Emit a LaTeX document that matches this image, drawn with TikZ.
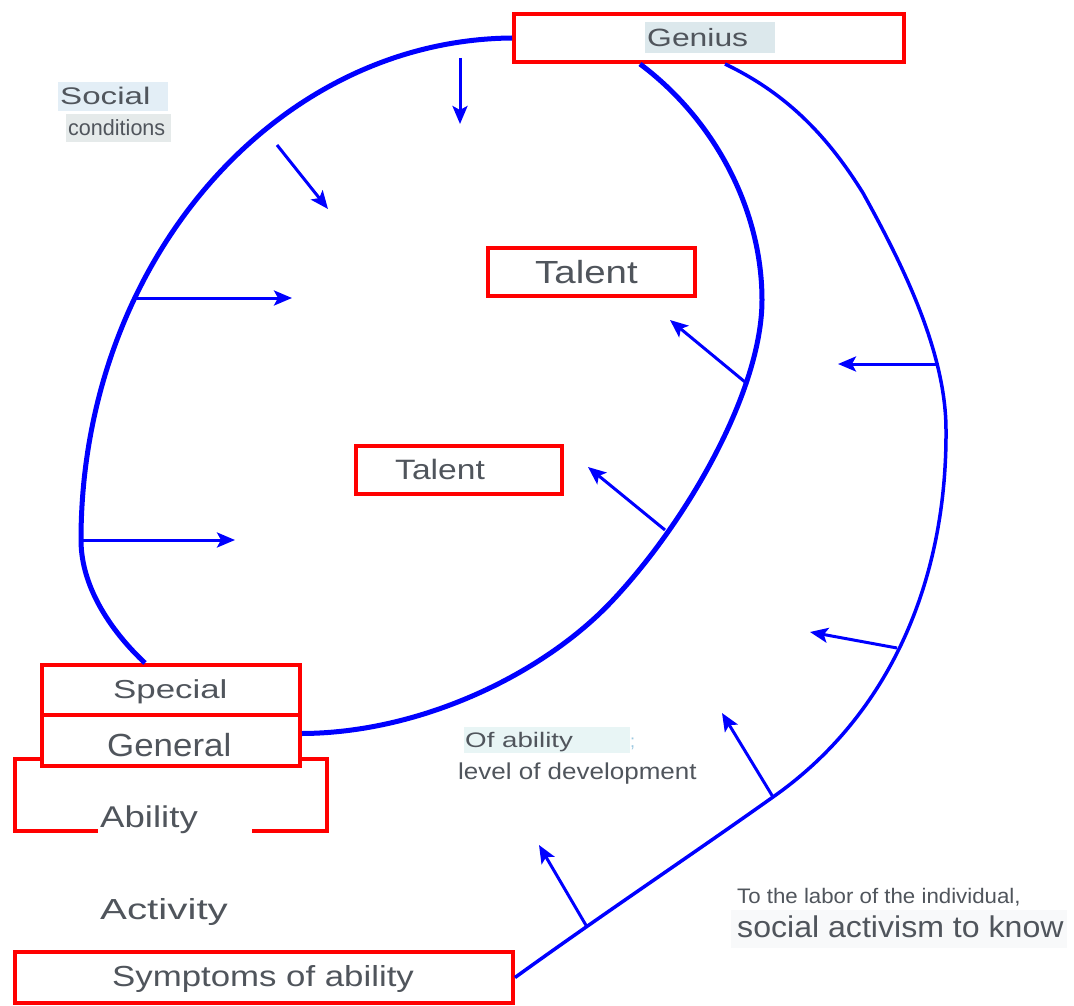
\documentclass[tikz,border=0pt]{standalone}
\usepackage{fontspec}
\setmainfont{Liberation Sans}
\usepackage{graphicx}
\usetikzlibrary{arrows.meta}
\definecolor{tgray}{HTML}{50555C}
\definecolor{geniusbg}{HTML}{DCE8EC}
\definecolor{socialbg}{HTML}{E3EEF6}
\definecolor{condbg}{HTML}{E5EAEA}
\definecolor{ofbg}{HTML}{E8F5F5}
\definecolor{actbg}{HTML}{F8F9FA}
\definecolor{semic}{HTML}{9CC8E0}
\newcommand{\wt}[3]{\scalebox{#2}[1]{\fontsize{#1}{#1}\selectfont #3}}
\begin{document}
\begin{tikzpicture}[x=1pt,y=-1pt,
  box/.style={draw=red, line width=4pt, fill=white, inner sep=0pt, text=tgray},
  bg/.style={inner sep=0pt, draw=none},
  lbl/.style={inner sep=0pt, text=tgray, anchor=base west},
  thickarc/.style={draw=blue, line width=5pt, line join=round},
  outerarc/.style={draw=blue, line width=3.5pt, line join=round},
  arr/.style={draw=blue, line width=3pt, -{Stealth[length=18pt,width=15pt,inset=4pt]}}]
\useasboundingbox (0,0) rectangle (1074,1006);
\fill[white] (0,0) rectangle (1074,1006);

% boxes
\node[box, minimum width=390pt, minimum height=48pt] (genius) at (709,38) {};
\node[bg, fill=geniusbg, minimum width=130pt, minimum height=31pt] (geniusbg) at (710,37.5) {};
\node[lbl] (geniustxt) at (647,46.5) {\wt{25}{1.275}{Genius}};

\node[box, minimum width=207pt, minimum height=48pt] (talent1) at (591.5,272) {};
\node[lbl] (talent1txt) at (535,283) {\wt{32}{1.2}{Talent}};

\node[box, minimum width=206pt, minimum height=48pt] (talent2) at (459,470) {};
\node[lbl] (talent2txt) at (395,479) {\wt{28}{1.2}{Talent}};

\node[box, minimum width=312pt, minimum height=72pt] (ability) at (171,795) {};
\node[bg, fill=white, minimum width=154pt, minimum height=34pt] (abilitybg) at (175,818) {};
\node[lbl] (abilitytxt) at (100,827) {\wt{30}{1.22}{Ability}};

\node[box, minimum width=258pt, minimum height=50pt] (special) at (171,690) {};
\node[lbl] (specialtxt) at (113,698) {\wt{26}{1.34}{Special}};
\node[box, minimum width=258pt, minimum height=51pt] (general) at (171,740.5) {};
\node[lbl] (generaltxt) at (107,756) {\wt{32}{1.09}{General}};

\node[lbl] (activity) at (100,919) {\wt{29}{1.39}{Activity}};

\node[box, minimum width=498pt, minimum height=51pt] (symptoms) at (264,977.5) {};
\node[lbl] (symptomstxt) at (112,986) {\wt{29}{1.2}{Symptoms of ability}};

% free labels
\node[bg, fill=socialbg, minimum width=110pt, minimum height=29pt] (socialbg) at (113,96.5) {};
\node[lbl] (social) at (60,105) {\wt{24}{1.38}{Social}};
\node[bg, fill=condbg, minimum width=105pt, minimum height=28pt] (condbg) at (118.5,128) {};
\node[lbl] (conditions) at (68,136) {\wt{22}{0.98}{conditions}};

\node[bg, fill=ofbg, minimum width=166pt, minimum height=26pt] (ofbg) at (547,740) {};
\node[lbl] (ofability) at (465,747) {\wt{21}{1.32}{Of ability}};
\node[lbl, text=semic] (semi) at (630,747) {\wt{18}{1}{;}};
\node[lbl] (level) at (458,779) {\wt{23}{1.13}{level of development}};

\node[lbl] (labor) at (737,903) {\wt{21}{1.06}{To the labor of the individual,}};
\node[bg, fill=actbg, minimum width=336pt, minimum height=38pt] (actbgn) at (899,929) {};
\node[lbl] (activism) at (737,937) {\wt{30}{1.07}{social activism to know}};

% main curves
\draw[thickarc] (genius.west) .. controls (274,40) and (81,264) .. (81,540)
  .. controls (81,590) and (115,635) .. ([xshift=-26pt]special.north);
\draw[thickarc] ([xshift=-69pt]genius.south) .. controls (715,120) and (762,210) .. (762,300)
  .. controls (762,390) and (688,520) .. (613,600)
  .. controls (545,673) and (422,733) .. ([yshift=7pt]general.east);
\draw[outerarc] ([xshift=16pt]genius.south) .. controls (790,95) and (830,140) .. (863,193)
  .. controls (900,260) and (946,350) .. (946,430)
  .. controls (947,580) and (890,715) .. (773,797)
  .. controls (690,856) and (600,916) .. (symptoms.east);

% arrows
\coordinate (a1s) at (460,58);  \coordinate (a1e) at (460,124);
\coordinate (a2s) at (277,145); \coordinate (a2e) at (328,209);
\coordinate (a3s) at (135,298); \coordinate (a3e) at (292,298);
\coordinate (a4s) at (80,540);  \coordinate (a4e) at (235,540);
\coordinate (a5s) at (745,382); \coordinate (a5e) at (670,320);
\coordinate (a6s) at (665,530); \coordinate (a6e) at (588,467);
\coordinate (a7s) at (939,364); \coordinate (a7e) at (838,364);
\coordinate (a8s) at (897,648); \coordinate (a8e) at (810,632);
\coordinate (a9s) at (773,797); \coordinate (a9e) at (722,713);
\coordinate (a10s) at (587,927); \coordinate (a10e) at (539,845);
\foreach \i in {1,...,10} {\draw[arr] (a\i s) -- (a\i e);}
\end{tikzpicture}
\end{document}
